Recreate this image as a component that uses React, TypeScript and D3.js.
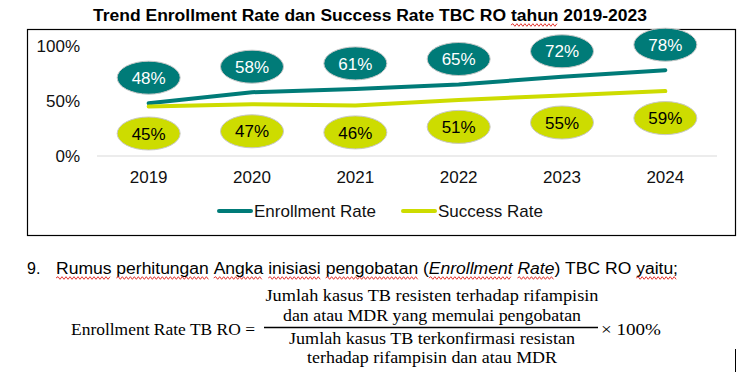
import React, { useEffect, useRef } from "react";
import * as d3 from "d3";

const years = ["2019", "2020", "2021", "2022", "2023", "2024"];
const enrollmentRate = [48, 58, 61, 65, 72, 78];
const successRate = [45, 47, 46, 51, 55, 59];
const yTicks = [0, 50, 100];
const seriesNames = ["Enrollment Rate", "Success Rate"];
const seriesColors = ["#007b78", "#cddc00"];

const titleText = "Trend Enrollment Rate dan Success Rate TBC RO tahun 2019-2023";
const titleFlagged = ["tahun"];

// text under the chart (a Word document screenshot)
const noteTokens = [
  { t: "Rumus", flag: true, sp: true },
  { t: "perhitungan", flag: true, sp: true },
  { t: "Angka", flag: true, sp: true },
  { t: "inisiasi", flag: true, sp: true },
  { t: "pengobatan", flag: true, sp: true },
  { t: "(", sp: false },
  { t: "Enrollment", italic: true, flag: true, sp: true },
  { t: "Rate", italic: true, flag: true, sp: false },
  { t: ")", sp: true },
  { t: "TBC", sp: true },
  { t: "RO", sp: true },
  { t: "yaitu;", flag: true, sp: false },
];
const formulaLeft = "Enrollment Rate TB RO =";
const formulaRight = "× 100%";
const numerator = ["Jumlah kasus TB resisten terhadap rifampisin", "dan atau MDR yang memulai pengobatan"];
const denominator = ["Jumlah kasus TB terkonfirmasi resistan", "terhadap rifampisin dan atau MDR"];

const W = 753;
const H = 388;

function squiggle(x0, x1, y) {
  let d = `M${x0},${y}`;
  let up = true;
  for (let x = x0 + 2; x <= x1; x += 2) {
    d += ` L${x},${up ? y - 1.3 : y + 1.3}`;
    up = !up;
  }
  return d;
}

// lays tokens out between x0 and x1, stretching them like Word's wider rendering
function layoutLine(g, tokens, x0, x1, baseline, size, weight) {
  const measure = g.append("text").attr("font-size", size).attr("font-weight", weight);
  const widths = tokens.map((tk) => {
    measure.attr("font-style", tk.italic ? "italic" : "normal").text(tk.t);
    return measure.node().getComputedTextLength();
  });
  measure.attr("font-style", "normal").text("\u00a0");
  const space = measure.node().getComputedTextLength();
  measure.remove();
  const total = d3.sum(widths) + tokens.filter((tk) => tk.sp).length * space;
  const k = (x1 - x0) / total;
  let cur = 0;
  tokens.forEach((tk, i) => {
    const x = x0 + cur * k;
    const w = widths[i] * k;
    g.append("text")
      .attr("x", x)
      .attr("y", baseline)
      .attr("font-size", size)
      .attr("font-weight", weight)
      .attr("font-style", tk.italic ? "italic" : "normal")
      .attr("textLength", w)
      .attr("lengthAdjust", "spacingAndGlyphs")
      .attr("fill", "#000")
      .text(tk.t);
    if (tk.flag) {
      g.append("path")
        .attr("d", squiggle(x, x + w, baseline + 4))
        .attr("fill", "none")
        .attr("stroke", "#e0201b")
        .attr("stroke-width", 0.9);
    }
    cur += widths[i] + (tk.sp ? space : 0);
  });
}

const App = () => {
  const svgRef = useRef(null);

  useEffect(() => {
    const svg = d3.select(svgRef.current);
    svg.selectAll("*").remove();
    svg.append("rect").attr("width", W).attr("height", H).attr("fill", "#fff");

    const root = svg.append("g").attr("font-family", "'Liberation Sans', Arial, sans-serif");

    // title
    const titleTokens = titleText.split(" ").map((t, i, arr) => ({
      t,
      flag: titleFlagged.includes(t),
      sp: i < arr.length - 1,
    }));
    layoutLine(root.append("g"), titleTokens, 93, 647, 21, 16, "bold");

    // chart frame
    root.append("rect")
      .attr("x", 27.5)
      .attr("y", 29.5)
      .attr("width", 708)
      .attr("height", 206)
      .attr("fill", "none")
      .attr("stroke", "#000")
      .attr("stroke-width", 1.2);

    const x = d3.scalePoint().domain(years).range([97, 717]).padding(0.5);
    const y = d3.scaleLinear().domain([0, 100]).range([156, 46]);

    root.append("line")
      .attr("x1", 97)
      .attr("x2", 717)
      .attr("y1", y(0))
      .attr("y2", y(0))
      .attr("stroke", "#d9d9d9")
      .attr("stroke-width", 1);

    root.selectAll(".ytick")
      .data(yTicks)
      .enter()
      .append("text")
      .attr("x", 80)
      .attr("y", (d) => y(d))
      .attr("dy", "0.36em")
      .attr("text-anchor", "end")
      .attr("font-size", 17)
      .attr("fill", "#111")
      .text((d) => `${d}%`);

    root.selectAll(".xtick")
      .data(years)
      .enter()
      .append("text")
      .attr("x", (d) => x(d))
      .attr("y", 177)
      .attr("dy", "0.36em")
      .attr("text-anchor", "middle")
      .attr("font-size", 17)
      .attr("fill", "#111")
      .text((d) => d);

    const series = [enrollmentRate, successRate];
    const line = d3.line().x((d, i) => x(years[i])).y((d) => y(d));

    series.forEach((vals, s) => {
      root.append("path")
        .datum(vals)
        .attr("d", line)
        .attr("fill", "none")
        .attr("stroke", seriesColors[s])
        .attr("stroke-width", 4)
        .attr("stroke-linecap", "round");
    });

    series.forEach((vals, s) => {
      const off = s === 0 ? -25.5 : 27;
      const lab = root.selectAll(`.lab${s}`)
        .data(vals)
        .enter()
        .append("g")
        .attr("transform", (d, i) => `translate(${x(years[i])},${y(d) + off})`);
      lab.append("ellipse")
        .attr("rx", 31.5)
        .attr("ry", 16.5)
        .attr("fill", seriesColors[s])
        .attr("stroke", "#c8c8c8")
        .attr("stroke-width", 1);
      lab.append("text")
        .attr("dy", "0.36em")
        .attr("text-anchor", "middle")
        .attr("font-size", 17)
        .attr("fill", s === 0 ? "#fff" : "#000")
        .text((d) => `${d}%`);
    });

    // legend
    const legendX = [219, 403];
    seriesNames.forEach((name, s) => {
      root.append("line")
        .attr("x1", legendX[s])
        .attr("x2", legendX[s] + 32)
        .attr("y1", 211)
        .attr("y2", 211)
        .attr("stroke", seriesColors[s])
        .attr("stroke-width", 4)
        .attr("stroke-linecap", "round");
      root.append("text")
        .attr("x", legendX[s] + 35)
        .attr("y", 211)
        .attr("dy", "0.36em")
        .attr("font-size", 17)
        .attr("fill", "#111")
        .text(name);
    });

    // numbered paragraph
    root.append("text").attr("x", 27).attr("y", 274).attr("font-size", 16).text("9.");
    layoutLine(root.append("g"), noteTokens, 56, 678, 274, 16, "normal");

    // formula
    const f = svg.append("g").attr("font-family", "'Liberation Serif', 'DejaVu Serif', serif").attr("font-size", 17.5);
    const cx = 432;
    const fracLines = [
      [numerator[0], 301, 333],
      [numerator[1], 321, 298],
      [denominator[0], 344, 286],
      [denominator[1], 363, 250],
    ];
    fracLines.forEach(([t, by, w]) => {
      f.append("text")
        .attr("x", cx)
        .attr("y", by)
        .attr("text-anchor", "middle")
        .attr("textLength", w)
        .attr("lengthAdjust", "spacingAndGlyphs")
        .text(t);
    });
    f.append("line")
      .attr("x1", 264)
      .attr("x2", 598)
      .attr("y1", 327.5)
      .attr("y2", 327.5)
      .attr("stroke", "#000")
      .attr("stroke-width", 1.5);
    f.append("text")
      .attr("x", 71)
      .attr("y", 335)
      .attr("textLength", 184)
      .attr("lengthAdjust", "spacingAndGlyphs")
      .text(formulaLeft);
    f.append("text")
      .attr("x", 601)
      .attr("y", 335)
      .attr("textLength", 60)
      .attr("lengthAdjust", "spacingAndGlyphs")
      .text(formulaRight);

    // text cursor
    svg.append("line")
      .attr("x1", 735.5)
      .attr("x2", 735.5)
      .attr("y1", 349)
      .attr("y2", 372)
      .attr("stroke", "#000")
      .attr("stroke-width", 1);
  }, []);

  return (
    <svg
      ref={svgRef}
      width={W}
      height={H}
      style={{ position: "absolute", left: 0, top: 0 }}
    ></svg>
  );
};

export default App;
